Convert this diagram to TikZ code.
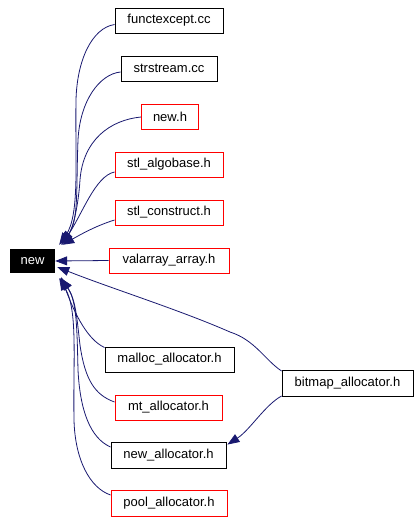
\documentclass[tikz,border=0pt]{standalone}
\usepackage{fontspec}
\setmainfont{Liberation Sans}
\usetikzlibrary{arrows.meta,calc}
\definecolor{edgeblue}{RGB}{25,25,112}
\begin{document}
\begin{tikzpicture}[x=1pt,y=-1pt,
  filebox/.style={draw=black,line width=0.9pt,inner sep=0pt,minimum height=25pt,font=\fontsize{13}{15}\selectfont},
  redbox/.style={filebox,draw=red},
  edge/.style={draw=edgeblue,line width=0.8pt,-{Triangle[length=12pt,width=9pt]}}]
\useasboundingbox (0,0) rectangle (420,522);
\node[fill=black,text=white,inner sep=0pt,minimum width=45pt,minimum height=24pt,font=\fontsize{13}{15}\selectfont] (new) at (32.5,261) {new};
\node[filebox,minimum width=108pt] (fe) at (169,20.5) {functexcept.cc};
\node[filebox,minimum width=96pt] (ss) at (169,68.5) {strstream.cc};
\node[redbox,minimum width=57pt] (nh) at (170,116.5) {new.h};
\node[redbox,minimum width=108pt] (algo) at (169,164.5) {stl\_algobase.h};
\node[redbox,minimum width=108pt] (cons) at (169,212.5) {stl\_construct.h};
\node[redbox,minimum width=120pt] (val) at (169,260.5) {valarray\_array.h};
\node[filebox,minimum width=129pt] (mal) at (169.5,359.5) {malloc\_allocator.h};
\node[redbox,minimum width=107pt] (mt) at (168.5,407.5) {mt\_allocator.h};
\node[filebox,minimum width=115pt,minimum height=26pt] (na) at (168.5,455) {new\_allocator.h};
\node[redbox,minimum width=116pt,minimum height=26pt] (pool) at (169,503) {pool\_allocator.h};
\node[filebox,minimum width=131pt,minimum height=26pt] (bm) at (347.5,383) {bitmap\_allocator.h};
% arrival points on new
\coordinate (inT1) at ($(new.north east)+(4,-4)$);
\coordinate (inT2) at ($(new.north east)+(5,-5)$);
\coordinate (inT3) at ($(new.north east)+(6,-6)$);
\coordinate (inT4) at ($(new.north east)+(6,-4)$);
\coordinate (inT5) at ($(new.north east)+(7,-4)$);
\coordinate (inB1) at ($(new.south east)+(6,4)$);
\coordinate (inB2) at ($(new.south east)+(6,5)$);
\coordinate (inB3) at ($(new.south east)+(5,5)$);
\coordinate (inB4) at ($(new.south east)+(4,5)$);
\coordinate (inR) at ($(new.east)+(2,6)$);
\coordinate (naIn) at ($(na.north east)+(1,3)$);
% edges
\draw[edge] ($(fe.west)+(0,4)$) .. controls (92,28) and (77,60) .. (76,100) .. controls (75,160) and (80,215) .. (inT1);
\draw[edge] ($(ss.west)+(0,3.5)$) .. controls (100,74) and (80,100) .. (78,140) .. controls (76,190) and (79,222) .. (inT2);
\draw[edge] ($(nh.west)+(0,0.5)$) .. controls (110,120) and (83,140) .. (80,180) .. controls (78,210) and (72,230) .. (inT3);
\draw[edge] ($(algo.west)+(0,7.5)$) .. controls (95,176) and (82,215) .. (inT4);
\draw[edge] ($(cons.west)+(0,7.5)$) .. controls (95,226) and (78,236) .. (inT5);
\draw[edge] (val.west) -- (new.east);
\draw[edge] ($(bm.west)+(0,-12)$) .. controls (265,360) and (255,340) .. (230,332) .. controls (180,310) and (110,288) .. (inR);
\draw[edge] ($(mal.west)+(0,-12)$) .. controls (88,340) and (75,315) .. (inB1);
\draw[edge] ($(mt.west)+(0,-5.5)$) .. controls (95,395) and (85,380) .. (80,345) .. controls (77,320) and (76,300) .. (inB2);
\draw[edge] ($(na.west)+(0,-8)$) .. controls (90,438) and (80,410) .. (78,370) .. controls (77,330) and (77,300) .. (inB3);
\draw[edge] ($(pool.west)+(0,-8)$) .. controls (90,488) and (75,460) .. (74,420) .. controls (73,360) and (78,310) .. (inB4);
\draw[edge] ($(bm.west)+(0,13)$) .. controls (265,405) and (250,430) .. (naIn);
\end{tikzpicture}
\end{document}
